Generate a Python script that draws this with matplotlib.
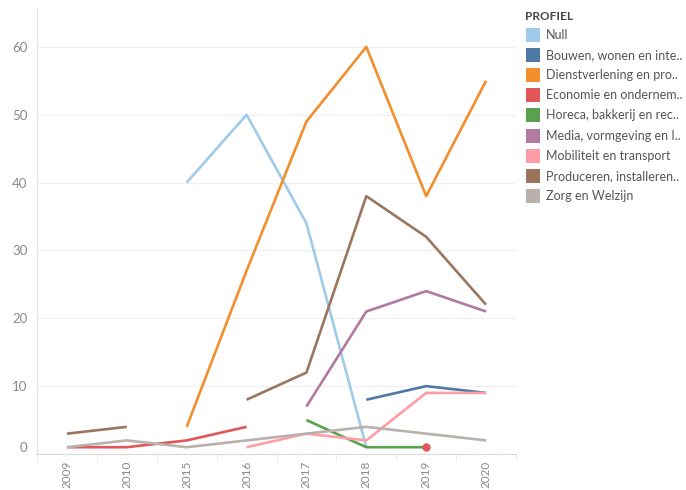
import numpy as np
import matplotlib
matplotlib.use("Agg")
import matplotlib.pyplot as plt
from matplotlib.patches import Rectangle

plt.rcParams['font.family'] = ['Lato', 'DejaVu Sans']

years = ['2009', '2010', '2015', '2016', '2017', '2018', '2019', '2020']
nan = np.nan

# one value per year, nan where the profile has no data
profielen = [
    'Null',
    'Bouwen, wonen en inte..',
    'Dienstverlening en pro..',
    'Economie en ondernem..',
    'Horeca, bakkerij en rec..',
    'Media, vormgeving en I..',
    'Mobiliteit en transport',
    'Produceren, installeren..',
    'Zorg en Welzijn',
]
null_vals = [nan, nan, 40, 50, 34, 1, nan, nan]
bouwen = [nan, nan, nan, nan, nan, 8, 10, 9]
dienst = [nan, nan, 4, 27, 49, 60, 38, 55]
economie = [1, 1, 2, 4, nan, nan, 1, nan]
horeca = [nan, nan, nan, nan, 5, 1, 1, nan]
media = [nan, nan, nan, nan, 7, 21, 24, 21]
mobiliteit = [nan, nan, nan, 1, 3, 2, 9, 9]
produceren = [3, 4, nan, 8, 12, 38, 32, 22]
zorg = [1, 2, 1, 2, 3, 4, 3, 2]

series = [null_vals, bouwen, dienst, economie, horeca, media, mobiliteit, produceren, zorg]
colors = ['#a0cbe8', '#4e79a7', '#f28e2b', '#e15759', '#59a14f',
          '#b07aa1', '#ff9da7', '#9c755f', '#bab0ac']

W, H = 686, 490
fig = plt.figure(figsize=(W / 100, H / 100), dpi=100)

# pane in pixel coords
left, right, top, bottom = 37, 516, 8, 454
ax = fig.add_axes([left / W, 1 - bottom / H, (right - left) / W, (bottom - top) / H])

px_per_unit = (386 - 46.7) / 50
ax.set_ylim(0, (bottom - top) / px_per_unit)
ax.set_xlim(-0.5, len(years) - 0.5)

x = np.arange(len(years))
for vals, c in zip(series, colors):
    v = np.array(vals, dtype=float)
    ax.plot(x, v, color=c, lw=1.9, solid_capstyle='butt', zorder=3)
    # isolated points get a dot
    for i in range(len(v)):
        if np.isnan(v[i]):
            continue
        prev_nan = i == 0 or np.isnan(v[i - 1])
        next_nan = i == len(v) - 1 or np.isnan(v[i + 1])
        if prev_nan and next_nan:
            ax.plot(x[i], v[i], 'o', color=c, ms=5, zorder=4)

# axes styling
for s in ['top', 'right']:
    ax.spines[s].set_visible(False)
ax.spines['left'].set_color('#e6e6e6')
ax.spines['bottom'].set_color('#d0d0d0')
ax.spines['bottom'].set_linestyle((0, (1, 1.5)))

ax.set_yticks([0, 10, 20, 30, 40, 50, 60])
ax.set_yticklabels(['0', '10', '20', '30', '40', '50', '60'])
ax.tick_params(axis='y', length=0, pad=7, labelsize=9.5, labelcolor='#8a8a8a')
for g in [10, 20, 30, 40, 50, 60]:
    ax.axhline(g, color='#f0f0f0', lw=1, zorder=1)
ax.get_yticklabels()[0].set_va('bottom')

ax.set_xticks(x)
ax.set_xticklabels(years, rotation=90, va='top')
ax.tick_params(axis='x', length=0, pad=5, labelsize=8.5, labelcolor='#8a8a8a')
ax.set_xticks(np.arange(-0.5, len(years)), minor=True)
ax.tick_params(axis='x', which='minor', length=5, color='#e6e6e6')

# legend drawn by hand
fig.text(525 / W, 1 - 16 / H, 'PROFIEL', fontsize=8.5, fontweight='bold',
         color='#444444', va='center', ha='left')
for i, (name, c) in enumerate(zip(profielen, colors)):
    yc = 35 + i * 20.1
    fig.patches.append(Rectangle((526 / W, 1 - (yc + 7) / H), 14 / W, 14 / H,
                                 transform=fig.transFigure, facecolor=c,
                                 edgecolor='none'))
    fig.text(546 / W, 1 - yc / H, name, fontsize=9, color='#555555',
             va='center', ha='left')

fig.savefig('out.png', dpi=100)
